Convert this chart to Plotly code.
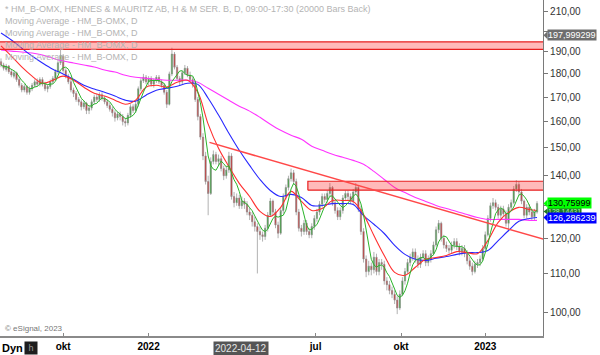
import numpy as np
import pandas as pd
import plotly.graph_objects as go

# ---------------- data ----------------
START = "2021-07-27"      # first candle; one candle every 2 trading days
STEP_DAYS = 2

open_ = [185.5, 184, 182, 183.5, 181, 179, 180.5, 177.5, 175, 173,
         174.5, 172, 173.5, 175, 176.5, 175.5, 177.5, 175.5, 173.5, 174.5,
         176.5, 178, 181, 185, 188, 181.5, 179, 176.5, 173, 171.5,
         169, 168, 166, 167.5, 164.5, 165.5, 168, 170, 169, 171,
         169.5, 168, 166.5, 165, 163.5, 161.5, 163, 162, 160, 159.5,
         162.5, 166, 164.5, 167, 173.5, 177, 178.5, 176.5, 178, 175.5,
         177, 178.5, 176.5, 175, 172, 167, 180, 189, 183, 178,
         176.5, 180.5, 182.5, 179.5, 177.5, 175.5, 169, 162, 154, 147,
         138, 134, 145, 147.5, 145, 146, 142.5, 140, 142, 147,
         133, 131, 132.5, 130, 131.5, 130.5, 128, 127, 125, 123.5,
         122, 121, 120.5, 123, 127, 131.5, 128, 124, 121.5, 128.5,
         133, 136, 139, 141, 138, 128, 123, 122, 124.5, 122,
         121, 123.5, 126, 128, 130.5, 133, 132, 134, 136, 131,
         128.5, 126.5, 128.5, 132.5, 134, 133, 131.5, 134.5, 136, 129,
         122, 114, 110.5, 112, 111, 114.5, 110.5, 113, 112.5, 108,
         107, 105.5, 104.5, 103, 101, 104.5, 108, 110.5, 113, 114.5,
         116, 114, 112.5, 114.5, 115.5, 113, 114, 115.5, 118, 122.5,
         124.5, 120, 118, 117, 116.5, 118, 119, 117.5, 116, 117,
         115.5, 113.5, 112, 110.5, 112.5, 113, 114, 117, 121, 126,
         130, 131, 129.5, 127, 129, 127.5, 124.5, 129.5, 131, 135.5,
         137, 134.5, 131.5, 127, 129.5, 128, 126.5, 128]
high = [187, 185, 184.5, 184, 182, 181.5, 181, 178.5, 176, 175.5,
        175, 174.5, 176, 177.5, 178, 178.5, 178.5, 176.5, 175.5, 177.5,
        179, 182, 186.5, 191, 189, 182.5, 180, 177.5, 174, 172.5,
        170, 169, 168.5, 168, 166.5, 169, 171, 171.5, 172, 172,
        170.5, 169, 167.5, 166, 164.5, 164, 164, 163, 161.5, 163.5,
        167, 167, 168, 174.5, 178, 180, 179.5, 179, 179, 178,
        179.5, 179.5, 177.5, 176, 173, 181, 192, 190, 184, 179,
        181.5, 184, 183.5, 181, 178.5, 176.5, 170, 163, 155.5, 148.5,
        140, 146.5, 149, 148.5, 147.5, 147, 143.5, 143.5, 148.5, 148,
        134.5, 134, 133.5, 133, 132.5, 131.5, 129.5, 128, 126.5, 124.5,
        123.5, 122, 124, 128, 132.5, 132, 129, 125, 129.5, 134,
        137, 140, 142.5, 142, 139, 129, 124, 125.5, 125.5, 123,
        124.5, 127, 129, 131.5, 134, 134, 135, 137.5, 136.5, 132,
        129.5, 129.5, 133.5, 135, 135, 134, 135.5, 137.5, 136.5, 130,
        123, 115, 113.5, 113, 116, 115.5, 114, 114, 113.5, 109,
        108, 106.5, 105.5, 104, 105.5, 109, 111.5, 114, 115.5, 117,
        117, 115, 115.5, 116.5, 116.5, 115, 116.5, 119, 123.5, 125.5,
        125, 121, 119, 118, 119, 120, 120, 118.5, 118, 118,
        116.5, 114.5, 113, 113.5, 114, 115, 118, 122, 127, 131,
        132.5, 132, 130.5, 130, 130, 128.5, 130.5, 132, 136.5, 138.5,
        138, 135.5, 132, 130.5, 130.5, 129, 129, 131.5]
low = [183, 181.5, 181, 180, 178.5, 178, 176.5, 174, 172, 172,
       171, 171, 172.5, 174, 174.5, 174.5, 174.5, 172.5, 172, 173.5,
       175.5, 177, 180, 184, 180.5, 178, 175.5, 172, 170, 168,
       166.5, 164.5, 165, 163, 163, 164.5, 167, 168, 168, 168.5,
       167, 165.5, 164, 162, 160, 160.5, 160.5, 158.5, 158, 158.5,
       161.5, 163.5, 163.5, 166, 172.5, 176, 175.5, 175, 174.5, 174,
       176, 175.5, 174, 171, 165.5, 166.5, 179, 182, 177, 175,
       175.5, 179.5, 178.5, 176.5, 174, 168, 160.5, 153, 145.5, 137,
       127, 133.5, 144, 144, 143.5, 141.5, 138.5, 139, 141, 132,
       129.5, 130, 129, 129, 129, 127, 125.5, 123.5, 122, 110,
       119.5, 119, 119.5, 122, 126.5, 127, 123, 120, 121, 127.5,
       132, 135, 138, 137, 127, 122, 120.5, 121, 121, 120,
       120, 122.5, 125, 127, 129.5, 131, 131, 133, 130, 127.5,
       125.5, 125.5, 127.5, 131.5, 132, 130.5, 130.5, 133.5, 128, 121,
       113, 109, 109.5, 109.5, 110, 109.5, 109.5, 111, 107, 105.5,
       104.5, 103.5, 102, 99.5, 100.5, 104, 107, 110, 112, 113.5,
       113, 111.5, 111.5, 113.5, 112, 112, 113, 115, 117.5, 121.5,
       119, 117, 116, 115.5, 115.5, 117, 116.5, 115, 115, 114.5,
       112.5, 111, 109.5, 110, 111.5, 112, 113.5, 116.5, 120.5, 125,
       129, 128.5, 126, 126, 126.5, 123.5, 122, 128.5, 130.5, 134.5,
       133.5, 130.5, 126, 126, 127, 125.5, 125.5, 127.5]
close = [184, 182.5, 183.5, 181, 179.5, 180.5, 177.5, 175, 173, 174.5,
         172, 173.5, 175, 176.5, 175.5, 177.5, 175.5, 173.5, 174.5, 176.5,
         178, 181, 185, 188.5, 181.5, 179, 176.5, 173, 171.5, 169,
         168, 166, 167.5, 164.5, 165.5, 168, 170, 169, 171, 169.5,
         168, 166.5, 165, 163.5, 161.5, 163, 162, 160, 159.5, 162.5,
         166, 164.5, 167, 173.5, 177, 178.5, 176.5, 178, 175.5, 177,
         178.5, 176.5, 175, 172, 167, 180, 189, 183, 178, 176.5,
         180.5, 182.5, 179.5, 177.5, 175.5, 169, 162, 154, 147, 138,
         134, 145, 147.5, 145, 146, 142.5, 140, 142, 147, 133,
         131, 132.5, 130, 131.5, 130.5, 128, 127, 125, 123.5, 122,
         121, 120.5, 123, 127, 131.5, 128, 124, 121.5, 128.5, 133,
         136, 139, 141, 138, 128, 123, 122, 124.5, 122, 121,
         123.5, 126, 128, 130.5, 133, 132, 134, 136, 131, 128.5,
         126.5, 128.5, 132.5, 134, 133, 131.5, 134.5, 136, 129, 122,
         114, 110.5, 112, 111, 114.5, 110.5, 113, 112.5, 108, 107,
         105.5, 104.5, 103, 101, 104.5, 108, 110.5, 113, 114.5, 116,
         114, 112.5, 114.5, 115.5, 113, 114, 115.5, 118, 122.5, 124.5,
         120, 118, 117, 116.5, 118, 119, 117.5, 116, 117, 115.5,
         113.5, 112, 110.5, 112.5, 113, 114, 117, 121, 126, 130,
         131, 129.5, 127, 129, 127.5, 124.5, 129.5, 131, 135.5, 137,
         134.5, 131.5, 127, 129.5, 128, 126.5, 128, 130.76]

# moving averages, one value every 4th candle plus the last one
MA_STEP = 4
red_ma = [192.9, 188.1, 183.1, 179.0, 175.9, 177.2, 179.0, 177.2, 174.2, 171.6,
          170.4, 168.7, 167.0, 168.7, 174.2, 175.0, 174.2, 176.3, 177.2, 172.0,
          159.0, 149.8, 143.2, 137.4, 133.0, 128.2, 126.6, 129.5, 134.7, 131.4,
          128.5, 129.1, 131.7, 131.7, 131.4, 127.2, 120.8, 115.0, 110.3, 109.5,
          111.7, 113.9, 114.4, 115.0, 116.1, 115.8, 115.5, 119.3, 124.8, 127.9,
          129.5, 128.8, 128.5]
blue_ma = [199.1, 195.7, 191.8, 188.1, 184.9, 182.1, 180.0, 177.6, 175.0, 173.4,
           172.0, 170.4, 168.7, 168.3, 170.8, 172.9, 173.7, 174.6, 175.9, 175.4,
           169.5, 162.6, 155.5, 149.1, 143.6, 138.7, 135.0, 133.0, 133.7, 132.7,
           130.1, 130.1, 130.7, 130.7, 130.4, 126.9, 124.2, 121.4, 117.9, 115.3,
           113.9, 113.6, 114.2, 114.7, 115.3, 115.8, 115.8, 116.4, 119.3, 122.3,
           125.1, 126.0, 126.29]
magenta_ma = [190.9, 190.4, 190.0, 189.5, 188.6, 187.1, 185.8, 184.9, 184.0, 183.1,
              181.7, 180.8, 179.4, 178.5, 178.1, 177.6, 177.2, 177.2, 177.2, 176.3,
              173.7, 171.2, 168.7, 166.2, 164.2, 161.7, 159.0, 156.6, 154.7, 153.2,
              150.6, 149.1, 147.6, 146.5, 145.4, 144.0, 141.5, 138.7, 136.0, 134.3,
              132.7, 131.4, 130.1, 129.1, 128.2, 127.2, 126.3, 125.7, 125.7, 125.7,
              125.7, 125.4, 125.4]
GREEN_MA_LEN = 5

tick_dates = ["2021-10-01", "2022-01-03", "2022-07-01", "2022-10-03", "2023-01-02"]
tick_text = ["okt", "2022", "jul", "okt", "2023"]
crosshair_date = "2022-04-12"

y_ticks = [100, 110, 120, 130, 140, 150, 160, 170, 180, 190, 200, 210]
y_hidden = [130, 200]      # labels covered by the price boxes in the original

zone_top = [191.2, 194.8]
zone_top_dates = ["2021-07-01", "2023-03-31"]
zone_mid = [135.1, 138.1]
zone_mid_dates = ["2022-06-23", "2023-03-31"]
trend_dates = ["2022-03-09", "2023-03-06"]
trend_prices = [152.0, 119.7]

price_labels = [
    (197.999299, "197,999299", "#6e6e6e", "#ffffff", 9),
    (128.14431, "128,14431", "#1f7a1f", "#b8f0b8", 7),
    (130.75999, "130,75999", "#00ff00", "#000000", 9),
    (126.286239, "126,286239", "#0000ff", "#ffffff", 9),
]

legend_lines = [
    "* HM_B-OMX, HENNES & MAURITZ AB, H & M SER. B, D, 09:00-17:30 (20000 Bars Back)",
    "Moving Average - HM_B-OMX, D",
    "Moving Average - HM_B-OMX, D",
    "Moving Average - HM_B-OMX, D",
    "Moving Average - HM_B-OMX, D",
]

# ---------------- helpers ----------------
def idx(d):
    return np.busday_count(START, d) / STEP_DAYS

N = len(close)
x = np.arange(N)
ma_x = list(range(0, N, MA_STEP)) + [N - 1]
green_ma = pd.Series(close).rolling(GREEN_MA_LEN, min_periods=1).mean()

FONT = "Arial, Liberation Sans, sans-serif"
W, H = 600, 355
ML, MR, MT, MB = 0, 57, 0, 19
PW, PH = W - ML - MR, H - MT - MB
y_top, y_bot = 216.0, 94.27
LY0, LY1 = np.log10(y_bot), np.log10(y_top)

fig = go.Figure()
fig.add_trace(go.Candlestick(
    x=x, open=open_, high=high, low=low, close=close,
    increasing=dict(line=dict(color="#8f8f8f", width=0.7), fillcolor="#22a822"),
    decreasing=dict(line=dict(color="#8f8f8f", width=0.7), fillcolor="#d82020"),
    whiskerwidth=0, showlegend=False, hoverinfo="skip"))

fig.add_trace(go.Scatter(x=ma_x, y=magenta_ma, mode="lines", line=dict(color="#ff33ff", width=1.1, shape="spline"), showlegend=False, hoverinfo="skip"))
fig.add_trace(go.Scatter(x=ma_x, y=blue_ma, mode="lines", line=dict(color="#2828ff", width=1.1, shape="spline"), showlegend=False, hoverinfo="skip"))
fig.add_trace(go.Scatter(x=ma_x, y=red_ma, mode="lines", line=dict(color="#ff3030", width=1.1, shape="spline"), showlegend=False, hoverinfo="skip"))
fig.add_trace(go.Scatter(x=x, y=green_ma, mode="lines", line=dict(color="#2ab42a", width=1.0), showlegend=False, hoverinfo="skip"))

def zone(dates, prices):
    x0, x1 = idx(dates[0]), idx(dates[1])
    lo, hi = prices
    return go.Scatter(x=[x0, x1, x1, x0, x0], y=[lo, lo, hi, hi, lo], mode="lines",
                      fill="toself", fillcolor="rgba(255,40,40,0.32)",
                      line=dict(color="#e82020", width=1.2), showlegend=False, hoverinfo="skip")

fig.add_trace(zone(zone_top_dates, zone_top))
fig.add_trace(zone(zone_mid_dates, zone_mid))
fig.add_trace(go.Scatter(x=[idx(d) for d in trend_dates], y=trend_prices, mode="lines",
                         line=dict(color="#ff4848", width=1.5), showlegend=False, hoverinfo="skip"))

ann, shapes = [], []
for k, t in enumerate(legend_lines):
    ann.append(dict(x=3 / PW, xref="paper", y=1 - (8.5 + 12.25 * k) / PH, yref="paper",
                    xanchor="left", yanchor="middle", showarrow=False, text=t,
                    font=dict(family=FONT, size=9, color="#b4b4b4")))
for v, t, bg, fg, fs in price_labels:
    fy = (np.log10(v) - LY0) / (LY1 - LY0)
    ann.append(dict(x=1, xref="paper", y=fy, yref="paper", xanchor="left", yanchor="middle",
                    xshift=4, showarrow=False, text=t, bgcolor=bg, borderpad=0,
                    font=dict(family=FONT, size=fs, color=fg)))
    hh = (4.0 if fs >= 9 else 3.0) / PH
    shapes.append(dict(type="path", xref="paper", yref="paper", line=dict(width=0), fillcolor=bg,
                       path=f"M {1 + 0.5 / PW} {fy} L {1 + 4.5 / PW} {fy + hh} L {1 + 4.5 / PW} {fy - hh} Z"))
ann.append(dict(x=3 / PW, xref="paper", y=1 - 328 / PH, yref="paper", xanchor="left", yanchor="middle",
                showarrow=False, text="© eSignal, 2023", font=dict(family=FONT, size=8, color="#777777")))
ann.append(dict(x=0, xref="paper", y=1 - 348 / PH, yref="paper", xanchor="left", yanchor="middle",
                showarrow=False, text="<b>Dyn</b>", font=dict(family=FONT, size=11, color="#000000")))
ann.append(dict(x=24 / PW, xref="paper", y=1 - 347.5 / PH, yref="paper", xanchor="left", yanchor="middle",
                showarrow=False, text=" h ", bgcolor="#1e1e1e", borderpad=1,
                font=dict(family=FONT, size=9, color="#9a9a9a")))
ann.append(dict(x=idx(crosshair_date), xref="x", y=1 - 348 / PH, yref="paper", xanchor="center", yanchor="middle",
                showarrow=False, text=crosshair_date, bgcolor="#555555", borderpad=1,
                font=dict(family=FONT, size=10, color="#e6e6e6")))

fig.update_layout(
    width=W, height=H, margin=dict(l=ML, r=MR, t=MT, b=MB),
    paper_bgcolor="white", plot_bgcolor="white",
    font=dict(family=FONT),
    annotations=ann, shapes=shapes,
    xaxis=dict(range=[-0.39, 209.3], rangeslider=dict(visible=False), showgrid=False, zeroline=False,
               tickvals=[idx(d) for d in tick_dates], ticktext=[f"<b>{t}</b>" for t in tick_text],
               ticks="inside", ticklen=3, tickcolor="#888888",
               tickfont=dict(family=FONT, size=10, color="#000000"),
               showline=True, linecolor="#8a8a8a", linewidth=1.5),
    yaxis=dict(type="log", side="right", range=[LY0, LY1],
               showgrid=False, zeroline=False,
               tickvals=y_ticks, ticktext=["" if v in y_hidden else f"{v},00" for v in y_ticks],
               ticks="outside", ticklen=4, tickcolor="#777777",
               tickfont=dict(family=FONT, size=10, color="#333333"),
               showline=True, linecolor="#7a7a7a", linewidth=1.2),
)
fig.write_html("out.html")
